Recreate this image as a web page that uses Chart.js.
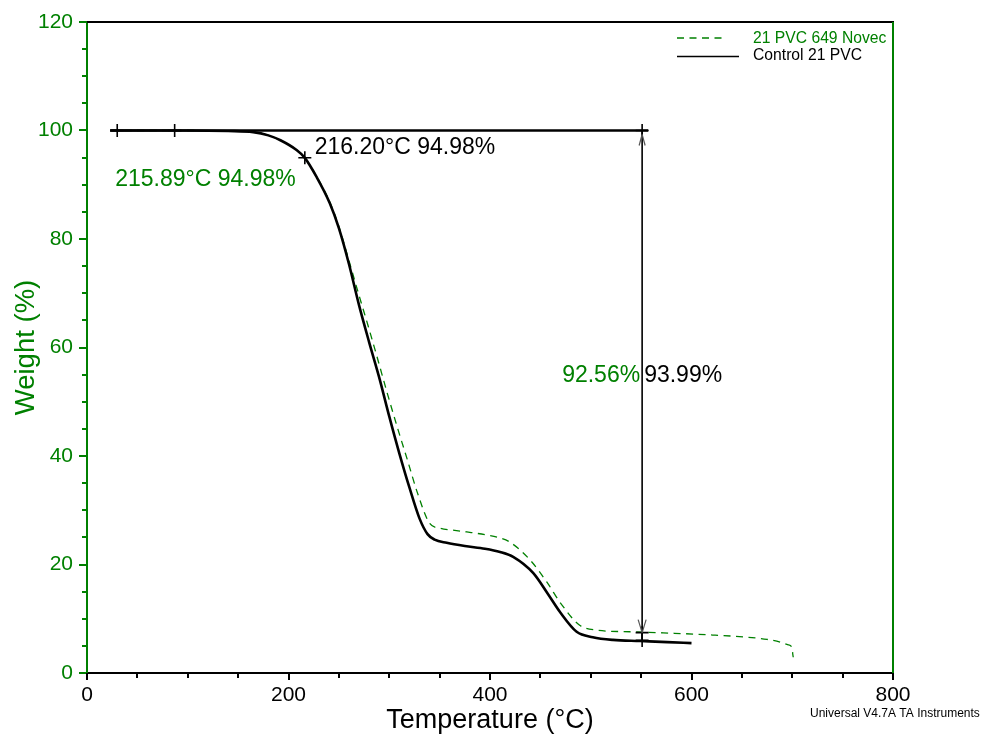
<!DOCTYPE html>
<html>
<head>
<meta charset="utf-8">
<script src="https://cdn.jsdelivr.net/npm/chart.js@4.4.1/dist/chart.umd.min.js"></script>
<style>
  html, body { margin: 0; padding: 0; background: #fff; }
  #grafico { display: block; }
</style>
</head>
<body>
<canvas id="grafico" width="982" height="738" style="width:982px;height:738px"></canvas>
<script>
// Control 21 PVC (linea negra)
const ctrlTemp   = [23, 60, 100, 140, 165, 180, 192, 208, 216, 228, 241, 250, 260, 270, 280, 290, 300, 310, 320, 330, 338, 345, 357, 375, 395, 410, 423, 443, 457, 470, 486, 502, 522, 549, 576, 600];
const ctrlWeight = [100.0, 100.0, 100.0, 99.9, 99.7, 99.1, 98.2, 96.4, 95.0, 91.4, 86.6, 82.0, 75.4, 67.8, 61.0, 54.5, 47.3, 40.5, 34.2, 28.5, 25.6, 24.6, 24.0, 23.4, 22.9, 22.3, 21.4, 18.4, 14.7, 11.1, 7.6, 6.6, 6.1, 5.9, 5.7, 5.5];

// 21 PVC 649 Novec (linea verde discontinua)
const novecTemp   = [25, 60, 100, 140, 165, 180, 192, 208, 216, 228, 241, 250, 260, 270, 279, 288, 298, 308, 318, 328, 340, 350, 365, 377, 395, 410, 420, 440, 457, 470, 489, 506, 539, 572, 621, 655, 675, 688, 696, 700, 700.5, 701];
const novecWeight = [100.0, 100.0, 100.0, 99.9, 99.7, 99.1, 98.2, 96.4, 95.0, 91.5, 86.8, 82.3, 76.0, 69.6, 64.0, 58.2, 51.6, 45.3, 39.3, 33.2, 27.6, 26.7, 26.3, 26.0, 25.5, 24.9, 24.1, 20.8, 16.6, 12.9, 8.8, 7.9, 7.6, 7.4, 7.0, 6.6, 6.2, 5.7, 5.2, 4.6, 3.5, 2.9];

// Analisis: inicio de la perdida, onset y escalon
const onsetNovec = [215.89, 94.98];
const onsetCtrl  = [216.20, 94.98];
const startTemps = [30, 87];
const stepTemp   = 551;
const stepNovec  = 92.56;
const stepCtrl   = 93.99;
const baseTemps  = [23, 557];

const xTickValues = [0, 200, 400, 600, 800];
const yTickValues = [0, 20, 40, 60, 80, 100, 120];

const VERDE = '#008000';
const FUENTE = '"Liberation Sans", Arial, sans-serif';

const pares = (xs, ys) => xs.map((x, i) => ({ x: x, y: ys[i] }));

const cruces = [
  { x: startTemps[0], y: 100 },
  { x: startTemps[1], y: 100 },
  { x: onsetCtrl[0], y: onsetCtrl[1] },
  { x: stepTemp, y: 100 },
  { x: stepTemp, y: 100 - stepNovec },
  { x: stepTemp, y: 100 - stepCtrl }
];

function linea(ctx, x1, y1, x2, y2) {
  ctx.beginPath();
  ctx.moveTo(x1, y1);
  ctx.lineTo(x2, y2);
  ctx.stroke();
}

// Marco, marcas menores, textos y leyenda
const extras = {
  id: 'extras',
  afterDraw(chart) {
    const { ctx, chartArea: a, scales: { x, y } } = chart;
    ctx.save();
    ctx.lineWidth = 2;
    ctx.strokeStyle = '#000';
    linea(ctx, a.left, a.top, a.right + 1, a.top);
    ctx.strokeStyle = VERDE;
    linea(ctx, a.right, a.top, a.right, a.bottom);

    // marcas eje y
    for (let v = 0; v <= 120; v += 5) {
      const py = Math.round(y.getPixelForValue(v));
      const len = v % 20 === 0 ? 8 : 5;
      linea(ctx, a.left - len, py, a.left, py);
    }
    // marcas eje x
    ctx.strokeStyle = '#000';
    for (let v = 0; v <= 800; v += 50) {
      const px = Math.round(x.getPixelForValue(v));
      const len = v % 200 === 0 ? 7 : 5;
      linea(ctx, px, a.bottom, px, a.bottom + len);
    }

    // puntas de flecha
    const ax = x.getPixelForValue(stepTemp);
    const top = y.getPixelForValue(100) + 4;
    const bot = y.getPixelForValue(100 - stepNovec);
    ctx.strokeStyle = '#555';
    ctx.lineWidth = 1.2;
    linea(ctx, ax, top, ax - 3, top + 11);
    linea(ctx, ax, top, ax + 3, top + 11);
    linea(ctx, ax, bot, ax - 4, bot - 13);
    linea(ctx, ax, bot, ax + 4, bot - 13);

    // textos
    ctx.textBaseline = 'middle';
    ctx.font = '23px ' + FUENTE;
    ctx.fillStyle = '#000';
    ctx.textAlign = 'left';
    ctx.fillText(onsetCtrl[0].toFixed(2) + '°C ' + onsetCtrl[1].toFixed(2) + '%',
      x.getPixelForValue(226), y.getPixelForValue(96.8));
    ctx.fillText(stepCtrl.toFixed(2) + '%', ax + 2, y.getPixelForValue(54.9));
    ctx.fillStyle = VERDE;
    ctx.fillText(onsetNovec[0].toFixed(2) + '°C ' + onsetNovec[1].toFixed(2) + '%',
      x.getPixelForValue(28), y.getPixelForValue(90.9));
    ctx.textAlign = 'right';
    ctx.fillText(stepNovec.toFixed(2) + '%', ax - 2, y.getPixelForValue(54.9));

    // leyenda
    ctx.textAlign = 'left';
    ctx.font = '15.7px ' + FUENTE;
    ctx.lineWidth = 1.3;
    ctx.strokeStyle = VERDE;
    ctx.setLineDash([7, 5.5]);
    linea(ctx, 677, 38, 724, 38);
    ctx.setLineDash([]);
    ctx.fillText('21 PVC 649 Novec', 753, 38.5);
    ctx.strokeStyle = '#000';
    linea(ctx, 677, 56.5, 739, 56.5);
    ctx.fillStyle = '#000';
    ctx.fillText('Control 21 PVC', 753, 56);

    ctx.font = '12px ' + FUENTE;
    ctx.fillText('Universal V4.7A TA Instruments', 810, 714);
    ctx.restore();
  }
};

const ctx = document.getElementById('grafico').getContext('2d');

new Chart(ctx, {
  type: 'line',
  data: {
    datasets: [
      {
        label: 'cruces',
        data: cruces,
        showLine: false,
        pointStyle: 'cross',
        pointRadius: 6.5,
        pointBorderWidth: 1.6,
        borderColor: '#000'
      },
      {
        label: 'base',
        data: baseTemps.map(t => ({ x: t, y: 100 })),
        borderColor: '#000',
        borderWidth: 2.4,
        pointRadius: 0
      },
      {
        label: 'escalon',
        data: [{ x: stepTemp, y: 100 }, { x: stepTemp, y: 100 - stepCtrl }],
        borderColor: '#000',
        borderWidth: 1.6,
        pointRadius: 0
      },
      {
        label: 'Control 21 PVC',
        data: pares(ctrlTemp, ctrlWeight),
        borderColor: '#000',
        borderWidth: 2.6,
        pointRadius: 0,
        cubicInterpolationMode: 'monotone'
      },
      {
        label: '21 PVC 649 Novec',
        data: pares(novecTemp, novecWeight),
        borderColor: VERDE,
        borderWidth: 1.3,
        borderDash: [7, 5.5],
        pointRadius: 0,
        cubicInterpolationMode: 'monotone'
      }
    ]
  },
  options: {
    responsive: false,
    animation: false,
    layout: { padding: { left: 0, right: 89, top: 22, bottom: 0 } },
    plugins: { legend: { display: false }, tooltip: { enabled: false } },
    scales: {
      x: {
        type: 'linear',
        min: 0,
        max: 800,
        afterBuildTicks: s => { s.ticks = xTickValues.map(v => ({ value: v })); },
        afterFit: s => { s.height = 65; s.paddingLeft = 0; s.paddingRight = 0; },
        ticks: { color: '#000', font: { size: 21, family: FUENTE }, padding: 2, maxRotation: 0, autoSkip: false },
        grid: { display: false },
        border: { display: true, color: '#000', width: 2 },
        title: { display: true, text: 'Temperature (°C)', color: '#000', font: { size: 27, family: FUENTE }, padding: { top: 0, bottom: 1 } }
      },
      y: {
        type: 'linear',
        min: 0,
        max: 120,
        afterBuildTicks: s => { s.ticks = yTickValues.map(v => ({ value: v })); },
        afterFit: s => { s.width = 87; s.paddingTop = 0; s.paddingBottom = 0; },
        ticks: { color: VERDE, font: { size: 21, family: FUENTE }, padding: 6 },
        grid: { display: false },
        border: { display: true, color: VERDE, width: 2 },
        title: { display: true, text: 'Weight (%)', color: VERDE, font: { size: 27.5, family: FUENTE }, padding: { top: 10, bottom: 0 } }
      }
    }
  },
  plugins: [extras]
});
</script>
</body>
</html>
